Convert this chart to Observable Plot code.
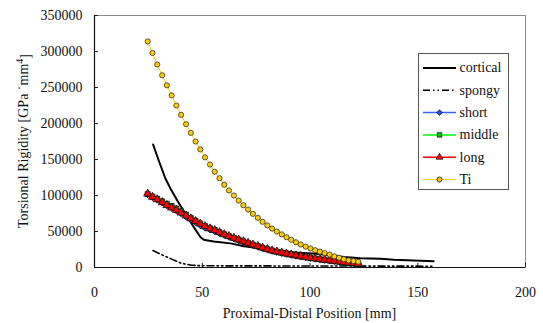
<!DOCTYPE html>
<html><head><meta charset="utf-8">
<script src="https://cdn.jsdelivr.net/npm/d3@7"></script>
<script src="https://cdn.jsdelivr.net/npm/@observablehq/plot@0.6"></script>
<style>body{margin:0;background:#fff;} svg{display:block;}</style>
</head><body><div id="chart"></div>
<script>
// ---- data ----
const xTicks = [0, 50, 100, 150, 200];
const yTicks = [0, 50000, 100000, 150000, 200000, 250000, 300000, 350000];
const seriesNames = ["cortical", "spongy", "short", "middle", "long", "Ti"];

const position = [24.7, 26.9, 29.1, 31.4, 33.6, 35.8, 38.0, 40.2, 42.5, 44.7, 46.9, 49.1, 51.3, 53.6, 55.8, 58.0, 60.2, 62.4, 64.7, 66.9, 69.1, 71.3, 73.5, 75.8, 78.0, 80.2, 82.4, 84.6, 86.9, 89.1, 91.3, 93.5, 95.7, 98.0, 100.2, 102.4, 104.6, 106.8, 109.1, 111.3, 113.5, 115.7, 117.9, 120.2, 122.4];

const shortVals = [101500, 97500, 94000, 90000, 86000, 82500, 79000, 75000, 70500, 66500, 62500, 58500, 55000, 52500, 50200, 47500, 45000, 42500, 40000, 37500, 35200, 33000, 30800, 28700, 26700, 24800, 23000, 21500, 20000, 18700, 17400, 16200, 15000, 14000, 13000, 12000, 11100, 10300, 9400, 8600, 7800, 7000, 6300, 5600, 4900];
const middleVals = [102000, 98500, 95500, 92000, 88500, 85500, 82000, 78000, 73500, 69000, 65000, 61000, 57500, 54500, 52000, 49000, 46200, 43600, 41000, 38600, 36300, 34000, 31800, 29600, 27500, 25500, 23600, 22000, 20500, 19200, 17900, 16700, 15500, 14400, 13400, 12400, 11500, 10600, 9700, 8900, 8100, 7300, 6500, 5800, 5100];
const longVals = [102400, 98000, 94500, 90500, 86500, 83000, 79800, 76000, 72000, 68000, 64200, 60800, 57200, 54200, 51800, 48800, 46000, 43500, 41000, 38600, 36200, 34000, 31800, 29600, 27500, 25500, 23500, 22000, 20500, 19200, 18000, 16800, 15600, 14500, 13500, 12500, 11600, 10700, 9800, 9000, 8200, 7400, 6600, 5900, 5200];
const tiVals = [314000, 298000, 282000, 267000, 253000, 239000, 225000, 212000, 199000, 187000, 175000, 164000, 153000, 143000, 133000, 124000, 115000, 107000, 100000, 93000, 86500, 80500, 74500, 69000, 63500, 58500, 54000, 50000, 46000, 42000, 38500, 35000, 32000, 29000, 26500, 24000, 22000, 20000, 18000, 15500, 13500, 11500, 10000, 9000, 8000];

const corticalX = [27.2, 29.8, 32.9, 35.3, 38.4, 42.2, 46.1, 49.2, 50.7, 55.4, 63.1, 69.3, 77, 85, 93, 103, 110, 116, 123.4, 132.7, 138.9, 148.2, 151.3, 157.4];
const corticalY = [170800, 148600, 123600, 109300, 93000, 74600, 56000, 42100, 38500, 36100, 33500, 29500, 26500, 23500, 21000, 19000, 16500, 14500, 12900, 12100, 10700, 9700, 9500, 8700];

const spongyX = [27.1, 31.0, 35.6, 40.2, 44.9, 49.5, 60, 80, 100, 120, 140, 157.4];
const spongyY = [23600, 18000, 12000, 6000, 3200, 2400, 2300, 2200, 2100, 2000, 1900, 1800];

// ---- tables ----
const rows = (xs, ys) => xs.map((x, i) => ({x, y: ys[i]}));
const cortical = rows(corticalX, corticalY);
const spongy = rows(spongyX, spongyY);
const shortS = rows(position, shortVals);
const middleS = rows(position, middleVals);
const longS = rows(position, longVals);
const tiS = rows(position, tiVals);

const styles = {
  cortical: {stroke: "#000", strokeWidth: 2},
  spongy: {stroke: "#000", strokeWidth: 1.6, strokeDasharray: "7,3,1.5,3,1.5,3"},
  short: {stroke: "#3366ff", strokeWidth: 1.5, symbol: "diamond2", fill: "#2255ee"},
  middle: {stroke: "#00ff00", strokeWidth: 1.5, symbol: "square", fill: "#00cc00"},
  long: {stroke: "#ff0000", strokeWidth: 1.5, symbol: "triangle", fill: "#ff0000"},
  Ti: {stroke: "#ffcc00", strokeWidth: 1, symbol: "circle", fill: "#ffcc00"}
};

const font = "'Liberation Serif', 'Times New Roman', Tinos, 'DejaVu Serif', serif";
const fmt = d3.format("d");

const chart = Plot.plot({
  width: 543,
  height: 323,
  marginLeft: 94,
  marginRight: 18,
  marginTop: 15,
  marginBottom: 56,
  style: {fontFamily: font, fontSize: "14px", color: "#111", background: "#fff"},
  x: {domain: [0, 200]},
  y: {domain: [0, 350000]},
  marks: [
    Plot.frame({stroke: "#8a8a8a"}),
    Plot.axisX(xTicks, {tickSize: 4, dy: -4, fill: "none", label: null, stroke: "#222"}),
    Plot.axisX(xTicks, {tickSize: 0, tickPadding: 20, label: null, tickFormat: fmt, fontFamily: font}),
    Plot.axisY(yTicks, {tickSize: 4, dx: 4, fill: "none", label: null, stroke: "#222"}),
    Plot.axisY(yTicks, {tickSize: 0, tickPadding: 12, label: null, tickFormat: fmt, fontFamily: font}),
    Plot.ruleX([0], {stroke: "#111", strokeWidth: 1.2}),
    Plot.ruleY([0], {stroke: "#111", strokeWidth: 1.2}),
    Plot.line(cortical, {x: "x", y: "y", ...styles.cortical}),
    Plot.line(spongy, {x: "x", y: "y", ...styles.spongy}),
    Plot.line(shortS, {x: "x", y: "y", stroke: styles.short.stroke, strokeWidth: 1.5}),
    Plot.dot(shortS, {x: "x", y: "y", symbol: "diamond2", r: 3, fill: styles.short.fill, stroke: "#111", strokeWidth: 0.8}),
    Plot.line(middleS, {x: "x", y: "y", stroke: styles.middle.stroke, strokeWidth: 1.5}),
    Plot.dot(middleS, {x: "x", y: "y", symbol: "square", r: 2.8, fill: styles.middle.fill, stroke: "#111", strokeWidth: 0.8}),
    Plot.line(longS, {x: "x", y: "y", stroke: styles.long.stroke, strokeWidth: 1.5}),
    Plot.dot(longS, {x: "x", y: "y", symbol: "triangle", r: 3, fill: styles.long.fill, stroke: "#111", strokeWidth: 0.8}),
    Plot.line(tiS, {x: "x", y: "y", stroke: styles.Ti.stroke, strokeWidth: 1}),
    Plot.dot(tiS, {x: "x", y: "y", symbol: "circle", r: 2.6, fill: styles.Ti.fill, stroke: "#333", strokeWidth: 0.8})
  ]
});

document.getElementById("chart").appendChild(chart);
const svg = d3.select(chart);
svg.style("font-family", font);

// axis titles
svg.append("text")
  .attr("x", 309.5).attr("y", 313.5).attr("dy", "0.35em")
  .attr("text-anchor", "middle").attr("fill", "#111")
  .attr("font-family", font).attr("font-size", 14)
  .text("Proximal-Distal Position [mm]");

const yl = svg.append("text")
  .attr("transform", "translate(23,141) rotate(-90)")
  .attr("dy", "0.35em").attr("text-anchor", "middle").attr("fill", "#111")
  .attr("font-family", font).attr("font-size", 14);
yl.append("tspan").text("Torsional Rigidity [GPa \u02D9mm");
yl.append("tspan").attr("dy", "-0.45em").attr("font-size", 10).text("4");
yl.append("tspan").attr("dy", "0.45em").text("]");

// legend
const lg = svg.append("g");
lg.append("rect").attr("x", 418.5).attr("y", 53.5).attr("width", 90).attr("height", 136)
  .attr("fill", "#fff").attr("stroke", "#555").attr("stroke-width", 1);
const symMap = {diamond2: d3.symbolDiamond2, square: d3.symbolSquare, triangle: d3.symbolTriangle, circle: d3.symbolCircle};
seriesNames.forEach((name, i) => {
  const s = styles[name];
  const cy = 68 + i * 22.3;
  lg.append("line").attr("x1", 423).attr("x2", 456).attr("y1", cy).attr("y2", cy)
    .attr("stroke", s.stroke).attr("stroke-width", s.strokeWidth)
    .attr("stroke-dasharray", s.strokeDasharray || null);
  if (s.symbol) {
    lg.append("path").attr("transform", `translate(439.5,${cy})`)
      .attr("d", d3.symbol(symMap[s.symbol], 20)())
      .attr("fill", s.fill).attr("stroke", "#111").attr("stroke-width", 0.8);
  }
  lg.append("text").attr("x", 459.5).attr("y", cy).attr("dy", "0.32em")
    .attr("text-anchor", "start")
    .attr("fill", "#111").attr("font-family", font).attr("font-size", 14)
    .text(name);
});
</script>
</body></html>
